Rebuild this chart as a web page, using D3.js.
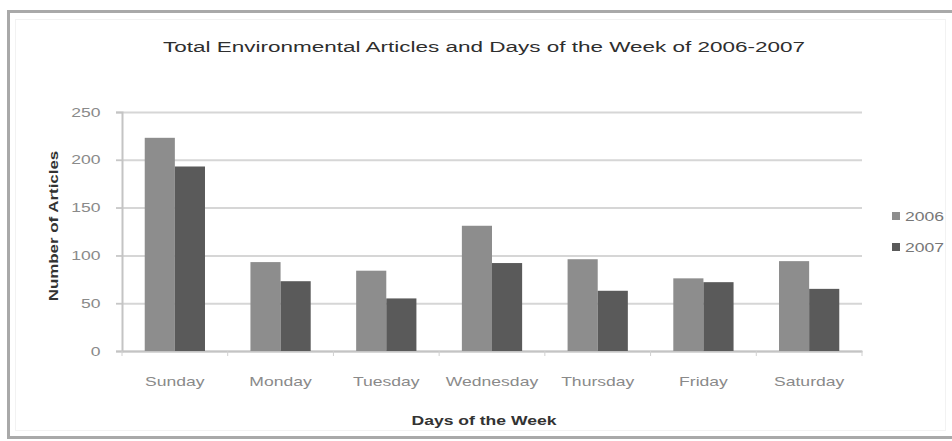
<!DOCTYPE html>
<html>
<head>
<meta charset="utf-8">
<script src="https://cdn.jsdelivr.net/npm/d3@7"></script>
<style>
  body { margin: 0; background: #fff; }
  svg { display: block; font-family: "Liberation Sans", Arial, sans-serif; }
</style>
</head>
<body>
<div id="chart-area"></div>
<script>
const days = ["Sunday", "Monday", "Tuesday", "Wednesday", "Thursday", "Friday", "Saturday"];
const years = ["2006", "2007"];
const values2006 = [223, 93, 84, 131, 96, 76, 94];
const values2007 = [193, 73, 55, 92, 63, 72, 65];
const yTicks = [0, 50, 100, 150, 200, 250];

const colors = { "2006": "#8d8d8d", "2007": "#5a5a5a" };

const width = 952, height = 441;
const left = 122, right = 862;
// the source picture has wide, stretched lettering
const stretch = 1.35;

const svg = d3.select("#chart-area").append("svg")
    .attr("width", width)
    .attr("height", height);

// outer chart frame
svg.append("rect")
    .attr("x", 8.5).attr("y", 11.5)
    .attr("width", 960).attr("height", 426)
    .attr("fill", "#fff")
    .attr("stroke", "#a9a9a9")
    .attr("stroke-width", 3);
svg.append("rect")
    .attr("x", 15.5).attr("y", 19.5)
    .attr("width", 930).attr("height", 411)
    .attr("fill", "none")
    .attr("stroke", "#f2f2f2");

const x = d3.scaleBand()
    .domain(days)
    .range([left, right])
    .paddingInner(0.43)
    .paddingOuter(0.215);

const xSub = d3.scaleBand()
    .domain(years)
    .range([0, x.bandwidth()]);

const y = d3.scaleLinear()
    .domain([0, 250])
    .range([351, 112]);

// gridlines
svg.append("g")
    .selectAll("line")
    .data(yTicks)
    .enter().append("line")
    .attr("x1", left - 6)
    .attr("x2", right)
    .attr("y1", d => y(d) + 0.5)
    .attr("y2", d => y(d) + 0.5)
    .attr("stroke", "#d6d6d6")
    .attr("stroke-width", 2);

// y axis
const yAxis = svg.append("g")
    .attr("transform", `translate(${left},0)`)
    .call(d3.axisLeft(y).tickValues(yTicks).tickSize(6).tickPadding(10));
yAxis.select(".domain").attr("stroke", "#c4c4c4").attr("stroke-width", 2);
yAxis.selectAll(".tick line").attr("stroke", "#c4c4c4");
yAxis.selectAll(".tick text")
    .attr("fill", "#8a8a8a")
    .attr("font-size", 13)
    .attr("transform", `scale(${stretch},1)`);

// x axis
const xAxis = svg.append("g")
    .attr("transform", `translate(0,${y(0)})`)
    .call(d3.axisBottom(x).tickSize(0).tickPadding(26));
xAxis.select(".domain").attr("stroke", "#c4c4c4").attr("stroke-width", 2);
xAxis.selectAll(".tick text")
    .attr("fill", "#8a8a8a")
    .attr("font-size", 13)
    .attr("transform", `scale(${stretch},1)`);

// small marks between categories
const step = x.step();
svg.append("g")
    .selectAll("line")
    .data(d3.range(days.length + 1))
    .enter().append("line")
    .attr("x1", i => left + i * (right - left) / days.length)
    .attr("x2", i => left + i * (right - left) / days.length)
    .attr("y1", y(0))
    .attr("y2", y(0) + 5)
    .attr("stroke", "#d0d0d0");

// bars
const rows = days.map((d, i) => ({ day: d, "2006": values2006[i], "2007": values2007[i] }));

const groups = svg.append("g")
    .selectAll("g")
    .data(rows)
    .enter().append("g")
    .attr("transform", d => `translate(${x(d.day)},0)`);

groups.selectAll("rect")
    .data(d => years.map(yr => ({ year: yr, value: d[yr] })))
    .enter().append("rect")
    .attr("x", d => xSub(d.year))
    .attr("y", d => y(d.value))
    .attr("width", xSub.bandwidth())
    .attr("height", d => y(0) - y(d.value))
    .attr("fill", d => colors[d.year]);

// title
svg.append("text")
    .attr("transform", "translate(484,52) scale(1.5,1)")
    .attr("text-anchor", "middle")
    .attr("font-size", 15)
    .attr("fill", "#2e2e2e")
    .text("Total Environmental Articles and Days of the Week of 2006-2007");

// axis titles
svg.append("text")
    .attr("transform", `translate(484,425) scale(${stretch},1)`)
    .attr("text-anchor", "middle")
    .attr("font-size", 13)
    .attr("font-weight", "bold")
    .attr("fill", "#333")
    .text("Days of the Week");

svg.append("text")
    .attr("transform", "translate(58,226) rotate(-90) scale(1.3,1)")
    .attr("text-anchor", "middle")
    .attr("font-size", 13)
    .attr("font-weight", "bold")
    .attr("fill", "#333")
    .text("Number of Articles");

// legend
const legend = svg.append("g")
    .selectAll("g")
    .data(years)
    .enter().append("g")
    .attr("transform", (d, i) => `translate(892,${212 + i * 31})`);

legend.append("rect")
    .attr("width", 8).attr("height", 8)
    .attr("fill", d => colors[d]);

legend.append("text")
    .attr("transform", `translate(13,9) scale(${stretch},1)`)
    .attr("font-size", 13)
    .attr("fill", "#777")
    .text(d => d);
</script>
</body>
</html>
